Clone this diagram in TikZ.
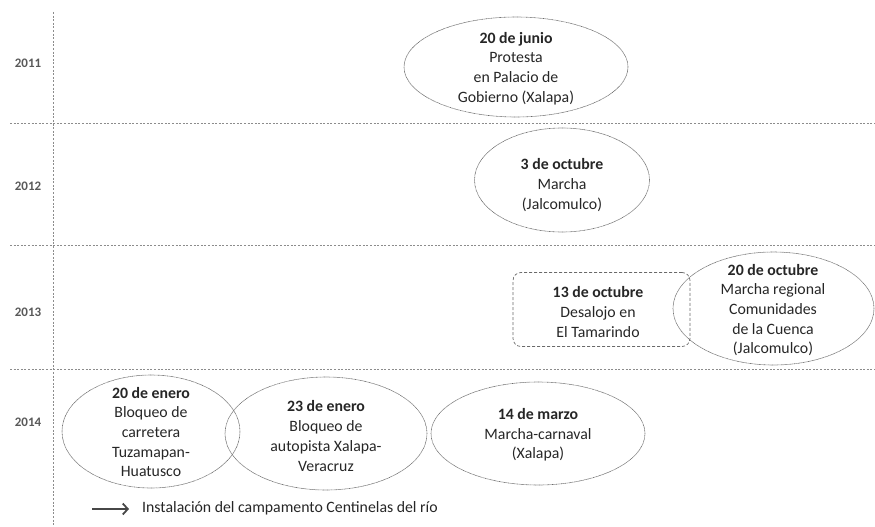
\documentclass[tikz,border=0pt]{standalone}
\usepackage{fontspec}
\setmainfont{Carlito}
\usetikzlibrary{shapes.geometric,arrows.meta}
\definecolor{txt}{HTML}{262626}
\definecolor{yr}{HTML}{595959}
\definecolor{grid}{HTML}{8C8C8C}
\definecolor{outl}{HTML}{6A6A6A}
\tikzset{
  gridline/.style={draw=grid, line width=0.7pt, dash pattern=on 2pt off 1.6pt},
  evell/.style={ellipse, draw=outl, line width=0.6pt, dash pattern=on 0.8pt off 0.5pt, inner sep=0pt},
  evbox/.style={rectangle, rounded corners=8pt, draw=outl, line width=0.7pt, dash pattern=on 3pt off 2pt, inner sep=0pt},
  evtext/.style={align=center, text=txt, inner sep=0pt, font=\fontsize{15.8}{19.7}\selectfont},
  year/.style={text=yr, font=\fontsize{13}{15}\selectfont\bfseries, inner sep=0pt},
}
\begin{document}
\begin{tikzpicture}[x=1pt,y=-1pt]
\useasboundingbox (0,0) rectangle (875,527);
% grid
\coordinate (vtop) at (53,12);
\coordinate (vbot) at (53,527);
\draw[gridline] (vtop) -- (vbot);
\coordinate (h1a) at (10,123); \coordinate (h1b) at (875,123);
\coordinate (h2a) at (10,245.5); \coordinate (h2b) at (875,245.5);
\coordinate (h3a) at (10,369); \coordinate (h3b) at (875,369);
\draw[gridline] (h1a) -- (h1b);
\draw[gridline] (h2a) -- (h2b);
\draw[gridline] (h3a) -- (h3b);
% years
\node[year] (y2011) at (28,63) {2011};
\node[year] (y2012) at (28,186) {2012};
\node[year] (y2013) at (28,312) {2013};
\node[year] (y2014) at (28,422) {2014};
% 2011
\node[evell, minimum width=224pt, minimum height=100pt] (e1) at (516,67) {};
\node[evtext] (t1) at (516,68.5) {\textbf{20 de junio}\\Protesta\\en Palacio de\\Gobierno (Xalapa)};
% 2012
\node[evell, minimum width=175pt, minimum height=104pt] (e2) at (562,180) {};
\node[evtext] (t2) at (562,185) {\textbf{3 de octubre}\\Marcha\\(Jalcomulco)};
% 2013
\node[evbox, minimum width=177pt, minimum height=74pt] (r3) at (601.5,309.5) {};
\node[evtext] (t3) at (598,312) {\textbf{13 de octubre}\\Desalojo en\\El Tamarindo};
\node[evell, minimum width=201pt, minimum height=113pt] (e4) at (773.5,308.5) {};
\node[evtext] (t4) at (773,310) {\textbf{20 de octubre}\\Marcha regional\\Comunidades\\de la Cuenca\\(Jalcomulco)};
% 2014
\node[evell, minimum width=178pt, minimum height=113pt] (e5) at (151,431.5) {};
\node[evtext] (t5) at (151,432) {\textbf{20 de enero}\\Bloqueo de\\carretera\\Tuzamapan-\\Huatusco};
\node[evell, minimum width=202pt, minimum height=113pt] (e6) at (326,433.5) {};
\node[evtext] (t6) at (326,436) {\textbf{23 de enero}\\Bloqueo de\\autopista Xalapa-\\Veracruz};
\node[evell, minimum width=214pt, minimum height=103pt] (e7) at (538,433.5) {};
\node[evtext] (t7) at (538,435) {\textbf{14 de marzo}\\Marcha-carnaval\\(Xalapa)};
% legend
\coordinate (ls) at (92,509);
\coordinate (le) at (129,509);
\draw[draw=txt!85, line width=1.8pt, -{Straight Barb[length=5pt,width=11pt]}] (ls) -- (le);
\node[evtext, anchor=west] (leg) at (142,508) {Instalación del campamento Centinelas del río};
\end{tikzpicture}
\end{document}
